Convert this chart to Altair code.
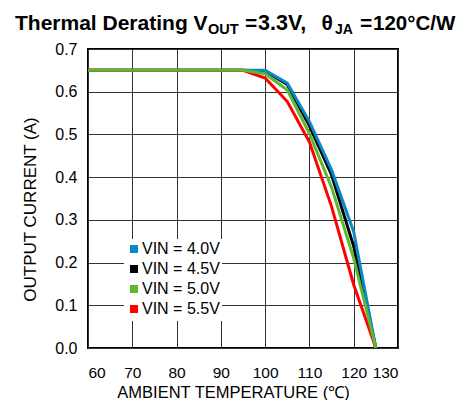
import altair as alt
import pandas as pd

temps = [60, 95, 100, 105, 110, 115, 120, 125]
vin_40 = [0.65, 0.65, 0.65, 0.620, 0.530, 0.417, 0.272, 0.0]
vin_45 = [0.65, 0.65, 0.648, 0.617, 0.520, 0.405, 0.238, 0.0]
vin_50 = [0.65, 0.65, 0.642, 0.604, 0.502, 0.376, 0.210, 0.0]
vin_55 = [0.65, 0.65, 0.632, 0.577, 0.482, 0.331, 0.148, 0.0]
series = ["VIN = 4.0V", "VIN = 4.5V", "VIN = 5.0V", "VIN = 5.5V"]
colors = ["#0a88c8", "#000000", "#5cb82e", "#ff0000"]
x_ticks = [60, 70, 80, 90, 100, 110, 120, 130]
y_ticks = [0.0, 0.1, 0.2, 0.3, 0.4, 0.5, 0.6, 0.7]

rows = []
for name, vals in zip(series, [vin_40, vin_45, vin_50, vin_55]):
    for t, v in zip(temps, vals):
        rows.append({"temp": t, "current": v, "series": name})
df = pd.DataFrame(rows)

FONT = "Liberation Sans"

color = alt.Color(
    "series:N",
    scale=alt.Scale(domain=series, range=colors),
    legend=alt.Legend(
        title=None,
        orient="none",
        legendX=36,
        legendY=190,
        fillColor="white",
        padding=2,
        symbolType="square",
        symbolSize=16,
        symbolStrokeWidth=4,
        labelFontSize=16,
        labelFont=FONT,
        labelColor="black",
        labelOffset=0,
        rowPadding=0,
    ),
)

x = alt.X(
    "temp:Q",
    scale=alt.Scale(domain=[60, 130], nice=False),
    axis=alt.Axis(
        values=x_ticks,
        title="AMBIENT TEMPERATURE (℃)",
        labelFontSize=15.5,
        titleFontSize=16.5,
        titleFontWeight="normal",
        labelPadding=17,
        titleBaseline="alphabetic",
        titleAlign="center",
        titleX=145,
        titleY=49,
        ticks=False,
        domain=False,
        labelFont=FONT,
        titleFont=FONT,
        labelColor="black",
        titleColor="black",
        gridColor="#333333",
        gridWidth=1,
    ),
)
y = alt.Y(
    "current:Q",
    scale=alt.Scale(domain=[0, 0.7], nice=False),
    axis=alt.Axis(
        values=y_ticks,
        format=".1f",
        title="OUTPUT CURRENT (A)",
        labelFontSize=16,
        titleFontSize=17,
        titleFontWeight="normal",
        labelPadding=11,
        titleAngle=270,
        titleBaseline="alphabetic",
        titleAlign="center",
        titleX=-53,
        titleY=160,
        ticks=False,
        domain=False,
        labelFont=FONT,
        titleFont=FONT,
        labelColor="black",
        titleColor="black",
        gridColor="#333333",
        gridWidth=1,
    ),
)

draw_order = ["VIN = 4.5V", "VIN = 4.0V", "VIN = 5.5V", "VIN = 5.0V"]
layers = []
for s in draw_order:
    layers.append(
        alt.Chart(df)
        .transform_filter(alt.datum.series == s)
        .mark_line(strokeWidth=3)
        .encode(x=x, y=y, color=color)
    )

title_parts = [
    ("Thermal Derating V", -73, -19.3, 21),
    ("OUT", 120, -15.5, 14.5),
    ("=", 157, -19.3, 21),
    ("3.3V,", 170, -19.3, 21.5),
    ("θ", 233.5, -19.3, 21),
    ("JA", 247, -15, 14),
    ("=", 272, -19.3, 21),
    ("120°C/W", 285, -19.3, 20.5),
]
for txt, px, py, fs in title_parts:
    layers.append(
        alt.Chart(alt.Data(values=[{}]))
        .mark_text(align="left", baseline="alphabetic", fontSize=fs,
                   fontWeight="bold", font=FONT, color="black")
        .encode(x=alt.value(px), y=alt.value(py), text=alt.value(txt))
    )

chart = (
    alt.layer(*layers)
    .properties(
        width=310,
        height=299,
        autosize=alt.AutoSizeParams(type="none"),
        padding={"left": 80, "top": 41, "right": 58, "bottom": 52},
        background="white",
    )
    .configure_view(stroke="black", strokeWidth=2)
)

chart.save("out.html", embed_options={"renderer": "svg", "actions": False})
